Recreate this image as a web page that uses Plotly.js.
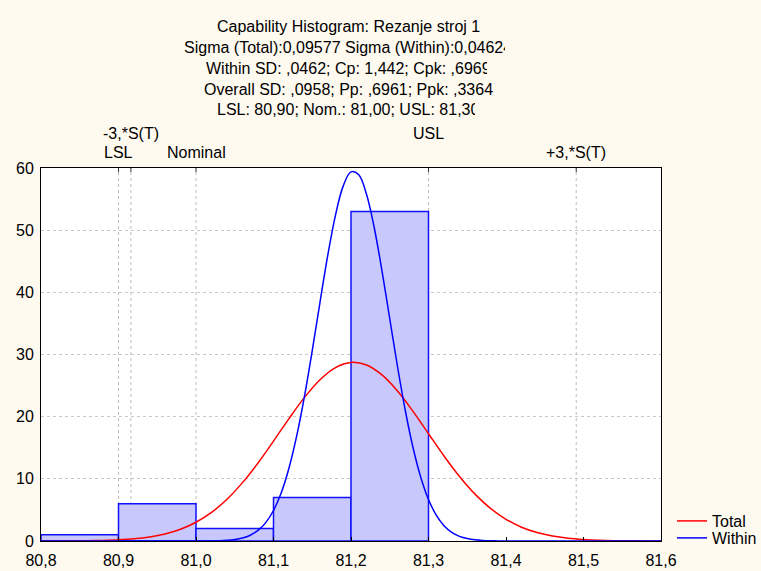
<!DOCTYPE html>
<html>
<head>
<meta charset="utf-8">
<script src="https://cdn.plot.ly/plotly-3.0.1.min.js"></script>
<style>html,body{margin:0;padding:0;background:#fffaf0;}#chart{width:761px;height:571px;}</style>
</head>
<body>
<div id="chart"></div>
<script>
// ---- data ----
const binCenters = [80.85, 80.95, 81.05, 81.15, 81.25];
const binCounts = [1, 6, 2, 7, 53];

const totalX = [80.80,80.82,80.84,80.86,80.88,80.90,80.92,80.94,80.96,80.98,81.00,81.02,81.04,81.06,81.08,81.10,81.12,81.14,81.16,81.18,81.20,81.22,81.24,81.26,81.28,81.30,81.32,81.34,81.36,81.38,81.40,81.42,81.44,81.46,81.48,81.50,81.52,81.54,81.56,81.58,81.60];
const totalY = [0.004,0.010,0.022,0.047,0.096,0.19,0.36,0.66,1.14,1.90,3.02,4.60,6.72,9.39,12.55,16.07,19.69,23.10,25.95,27.90,28.72,28.31,26.71,24.12,20.85,17.26,13.68,10.38,7.54,5.24,3.49,2.22,1.36,0.79,0.44,0.24,0.12,0.06,0.03,0.013,0.005];

const withinX = [80.80,80.90,80.95,81.00,81.01,81.02,81.03,81.04,81.05,81.06,81.07,81.08,81.09,81.10,81.11,81.12,81.13,81.14,81.15,81.16,81.17,81.18,81.19,81.20,81.21,81.22,81.23,81.24,81.25,81.26,81.27,81.28,81.29,81.30,81.31,81.32,81.33,81.34,81.35,81.36,81.37,81.38,81.39,81.40,81.45,81.50,81.60];
const withinY = [0,0,0,0.004,0.010,0.023,0.053,0.117,0.245,0.489,0.93,1.70,2.96,4.91,7.77,11.75,16.95,23.32,30.63,38.40,45.93,52.43,57.12,59.38,58.91,55.77,50.39,43.45,35.75,28.07,21.03,15.04,10.26,6.68,4.16,2.46,1.39,0.75,0.39,0.19,0.09,0.04,0.017,0.007,0,0,0];

const specX = [80.9, 80.916, 81.0, 81.3, 81.4906];
const specLabels = ["LSL", "-3,*S(T)", "Nominal", "USL", "+3,*S(T)"];
const specRow = [2, 1, 2, 1, 2];

const titleLines = [
  "Capability Histogram: Rezanje stroj 1",
  "Sigma (Total):0,09577 Sigma (Within):0,04624",
  "Within SD: ,0462; Cp: 1,442; Cpk: ,6969",
  "Overall SD: ,0958; Pp: ,6961; Ppk: ,3364",
  "LSL: 80,90; Nom.: 81,00; USL: 81,30"
];

const xTicks = [80.8, 80.9, 81.0, 81.1, 81.2, 81.3, 81.4, 81.5, 81.6];
const yTicks = [0, 10, 20, 30, 40, 50, 60];

// ---- layout helpers (pixel -> paper) ----
const L = 41, R = 661, T = 168, B = 541;
const px = p => (p - L) / (R - L);
const py = p => (B - p) / (B - T);
const FONT = "Liberation Sans, Arial, sans-serif";

const titleLeft = [216, 183, 205, 203, 216];
const titleClip = [null, 321, 281, null, 258];
const titleYpx = [26, 47, 68, 89, 110];

const annotations = [];
titleLines.forEach((t, i) => {
  const a = {
    text: t, xref: 'paper', yref: 'paper', x: px(titleLeft[i]), y: py(titleYpx[i]),
    xanchor: 'left', yanchor: 'middle', align: 'left', showarrow: false, borderpad: 0,
    font: {family: FONT, size: 16, color: '#000'}
  };
  if (titleClip[i]) a.width = titleClip[i];
  annotations.push(a);
});
specX.forEach((x, i) => {
  annotations.push({
    text: specLabels[i], xref: 'x', yref: 'paper', x: x, y: py(specRow[i] === 1 ? 134 : 152),
    xanchor: 'center', yanchor: 'middle', showarrow: false,
    font: {family: FONT, size: 16, color: '#000'}
  });
});

const shapes = [];
specX.forEach(x => {
  shapes.push({type: 'line', xref: 'x', yref: 'y', x0: x, x1: x, y0: 0, y1: 60, layer: 'below',
    line: {color: '#bcbcbc', width: 1, dash: 'dot'}});
  shapes.push({type: 'line', xref: 'x', yref: 'paper', x0: x, x1: x, y0: 1, y1: py(T + 4),
    line: {color: '#333', width: 1}});
});

const traces = [
  {type: 'bar', x: binCenters, y: binCounts, width: 0.1, showlegend: false,
   marker: {color: 'rgb(200,200,252)', line: {color: '#1010ff', width: 1.5}}, hoverinfo: 'skip'},
  {type: 'scatter', mode: 'lines', name: 'Total', x: totalX, y: totalY, legend: 'legend',
   line: {color: '#ff0000', width: 1.5, shape: 'spline'}},
  {type: 'scatter', mode: 'lines', name: 'Within', x: withinX, y: withinY, legend: 'legend2',
   line: {color: '#0000ff', width: 1.5, shape: 'spline'}}
];

const legendBase = {xanchor: 'left', yanchor: 'middle', bgcolor: 'rgba(0,0,0,0)', borderwidth: 0,
  font: {family: FONT, size: 16, color: '#000'}, tracegroupgap: 0};

const layout = {
  width: 761, height: 571,
  margin: {l: L, r: 761 - R, t: T, b: 571 - B, pad: 0, autoexpand: false},
  paper_bgcolor: '#fffaf0', plot_bgcolor: '#ffffff',
  separators: ',.',
  font: {family: FONT, size: 16, color: '#000'},
  bargap: 0,
  xaxis: {range: [80.8, 81.6], tickvals: xTicks, tickformat: '.1f', ticks: 'inside', ticklen: 4,
    tickcolor: '#000', showgrid: false, zeroline: false, showline: true, linecolor: '#000',
    linewidth: 1, mirror: true, ticklabelstandoff: 5, automargin: false,
    tickfont: {family: FONT, size: 16, color: '#000'}},
  yaxis: {range: [0, 60], tickvals: yTicks, ticks: '', showgrid: true, gridcolor: '#c8c8c8',
    griddash: 'dot', zeroline: false, showline: true, linecolor: '#000', linewidth: 1, mirror: true,
    ticklabelstandoff: 3, automargin: false, tickfont: {family: FONT, size: 16, color: '#000'}},
  legend: Object.assign({}, legendBase, {x: px(672), y: py(521)}),
  legend2: Object.assign({}, legendBase, {x: px(672), y: py(538)}),
  annotations: annotations,
  shapes: shapes,
  showlegend: true
};

Plotly.newPlot('chart', traces, layout, {displayModeBar: false, staticPlot: true});
</script>
</body>
</html>
